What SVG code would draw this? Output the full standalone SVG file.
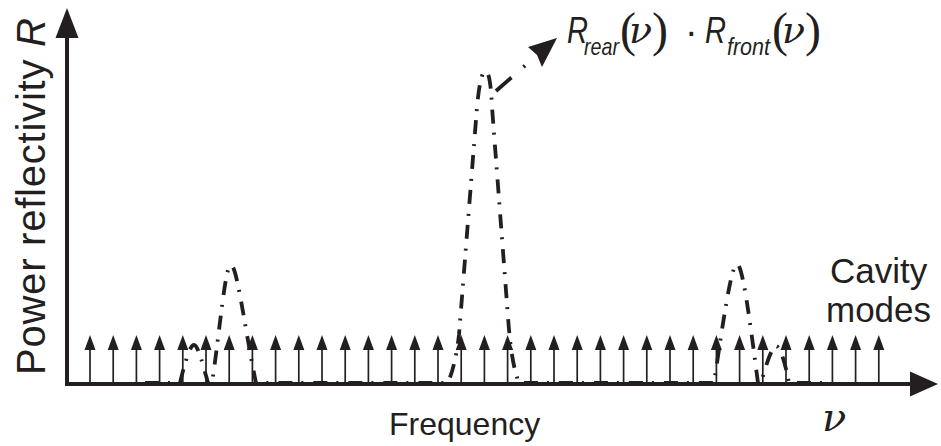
<svg xmlns="http://www.w3.org/2000/svg" width="941" height="446" viewBox="0 0 941 446">
<style>
.ax{stroke:#231f20;stroke-width:4;fill:none}
.hd{fill:#231f20;stroke:none}
.dd{stroke:#231f20;stroke-width:3.8;fill:none;stroke-dasharray:14 9 2 10}
.ml{stroke:#231f20;stroke-width:1.7}
.t{font-family:"Liberation Sans",Arial,sans-serif;fill:#231f20}
.s{font-family:"Liberation Serif","Times New Roman",serif;fill:#231f20}
.nu{font-family:"DejaVu Serif",serif;font-style:italic;fill:#231f20}
</style>
<defs>
<g id="m"><line class="ml" x1="0" y1="384" x2="0" y2="347"/><polygon class="hd" points="0,335 -5.5,350 5.5,350"/></g>
</defs>
<rect width="941" height="446" fill="#fff"/>
<g id="cavity-modes">
<use href="#m" x="90"/><use href="#m" x="113.2"/><use href="#m" x="136.4"/><use href="#m" x="159.6"/><use href="#m" x="182.8"/><use href="#m" x="206"/><use href="#m" x="229.2"/><use href="#m" x="252.4"/><use href="#m" x="275.6"/><use href="#m" x="298.8"/><use href="#m" x="322"/><use href="#m" x="345.2"/><use href="#m" x="368.4"/><use href="#m" x="391.6"/><use href="#m" x="414.8"/><use href="#m" x="438"/><use href="#m" x="461.2"/><use href="#m" x="484.4"/><use href="#m" x="507.6"/><use href="#m" x="530.8"/><use href="#m" x="554"/><use href="#m" x="577.2"/><use href="#m" x="600.4"/><use href="#m" x="623.6"/><use href="#m" x="646.8"/><use href="#m" x="670"/><use href="#m" x="693.2"/><use href="#m" x="716.4"/><use href="#m" x="739.6"/><use href="#m" x="762.8"/><use href="#m" x="786"/><use href="#m" x="809.2"/><use href="#m" x="832.4"/><use href="#m" x="855.6"/><use href="#m" x="878.8"/>
</g>
<g id="reflectivity-curve">
<path class="dd" d="M145,383 L180,383 C185,362 190,345 194,345 C198,345 203,365 208,383 L212,383 C220,330 225,265 231,265 C237,265 245,330 256,383 L447,383 C451,378 456,360 459,335 L477,107 C479,85 482,71 485.5,71 C489,71 491,85 492,107 L508,317 C510,345 513,368 519,383 L714,383 C722,330 731,264 737,264 C743,264 751,330 758,383 L761,383 C766,365 772,346 776,346 C780,346 785,362 789,383 L830,383"/>
</g>
<g id="connectors">
<path class="ax" d="M67,386 V36"/>
<polygon class="hd" points="67,8 55.5,38 78.5,38"/>
<path class="ax" d="M65,384 H912"/>
<polygon class="hd" points="938,384 910,371.5 910,396.5"/>
<path d="M496,91 L536,56" stroke="#231f20" stroke-width="3.8" fill="none" stroke-dasharray="20.5 16 2 20"/>
<polygon class="hd" points="557,38 528,47 537,55 542,67"/>
</g>
<g id="y-label">
<text class="t" font-size="40" transform="translate(45,375) rotate(-90)" textLength="357">Power reflectivity <tspan font-style="italic">R</tspan></text>
</g>
<g id="x-label">
<text class="t" font-size="32" x="389" y="435">Frequency</text>
<text class="nu" font-size="40" x="822" y="431">ν</text>
</g>
<g id="cavity-label">
<text class="t" font-size="35" x="830" y="283">Cavity</text>
<text class="t" font-size="35" x="826" y="322">modes</text>
</g>
<g id="product-label">
<text class="t" font-size="36" font-style="italic" x="567" y="43" textLength="21" lengthAdjust="spacingAndGlyphs">R</text>
<text class="t" font-size="24" font-style="italic" x="584" y="55" textLength="35" lengthAdjust="spacingAndGlyphs">rear</text>
<text class="s" font-size="48" x="620" y="46">(<tspan class="nu" font-size="38" x="629" y="43">ν</tspan><tspan x="652" y="46">)</tspan></text>
<text class="t" font-size="38" x="685" y="45">·</text>
<text class="t" font-size="36" font-style="italic" x="705" y="43" textLength="21" lengthAdjust="spacingAndGlyphs">R</text>
<text class="t" font-size="24" font-style="italic" x="727" y="55" textLength="43" lengthAdjust="spacingAndGlyphs">front</text>
<text class="s" font-size="48" x="772" y="46">(<tspan class="nu" font-size="38" x="782" y="43">ν</tspan><tspan x="805" y="46">)</tspan></text>
</g>
</svg>
